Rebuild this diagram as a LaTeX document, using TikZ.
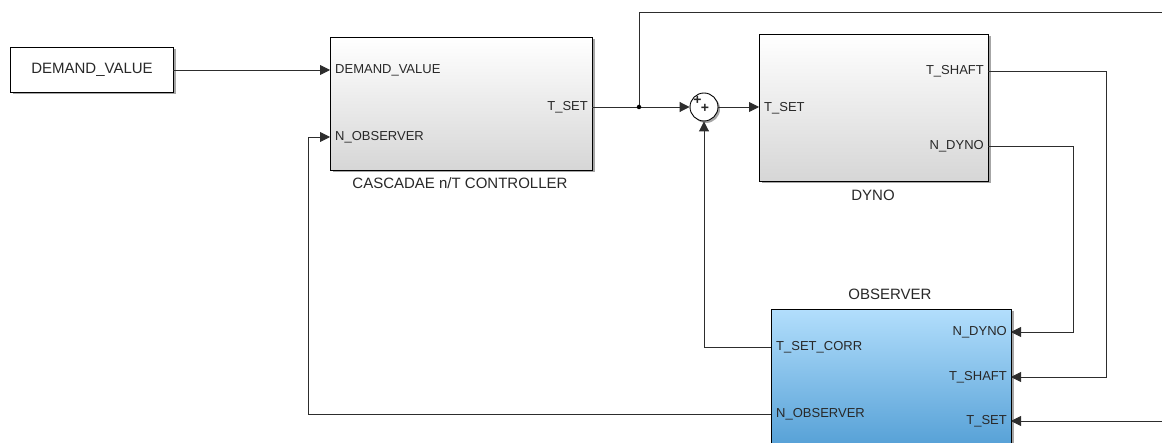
\documentclass[tikz,border=0pt]{standalone}
\usepackage{fontspec}
\setmainfont{Liberation Sans}
\usetikzlibrary{arrows.meta,shadows}
\definecolor{wirec}{RGB}{45,45,45}
\definecolor{txtc}{RGB}{40,40,40}
\definecolor{grayb}{RGB}{214,214,214}
\definecolor{bluet}{RGB}{178,222,252}
\definecolor{blueb}{RGB}{70,150,208}
\begin{document}
\begin{tikzpicture}[x=1pt,y=-1pt,
  shad/.style={drop shadow={shadow xshift=2pt,shadow yshift=-2pt,fill=black,opacity=0.35}},
  gbox/.style={draw=black,line width=1pt,top color=white,bottom color=grayb,shad,inner sep=0pt},
  bbox/.style={draw=black,line width=1pt,top color=bluet,bottom color=blueb,shad,inner sep=0pt},
  wbox/.style={draw=black,line width=1pt,fill=white,shad,inner sep=0pt},
  wire/.style={draw=wirec,line width=0.9pt},
  arr/.style={wire,-{Triangle[length=10pt,width=10pt]}},
  lbl/.style={font=\fontsize{13}{15}\selectfont,text=txtc,inner sep=2pt},
  ttl/.style={font=\fontsize{15}{17}\selectfont,text=txtc,inner sep=2pt},
  pls/.style={font=\bfseries\fontsize{14}{14}\selectfont,text=txtc,inner sep=0pt},
  dot/.style={circle,fill=black,inner sep=0pt,minimum size=4.5pt}
]
\clip (0,0) rectangle (1162,443);
\useasboundingbox (0,0) rectangle (1162,443);

% blocks
\node[wbox,minimum width=163pt,minimum height=45pt,anchor=north west] (dv) at (10,47) {};
\node[ttl] (dvt) at (dv.center) {DEMAND\_VALUE};

\node[gbox,minimum width=262pt,minimum height=133pt,anchor=north west] (ctrl) at (330,37) {};
\node[gbox,minimum width=229pt,minimum height=147pt,anchor=north west] (dyno) at (759,34) {};
\node[bbox,minimum width=240pt,minimum height=160pt,anchor=north west] (obs) at (771,309) {};
\node[circle,draw=black,line width=0.9pt,fill=white,minimum size=28pt,inner sep=0pt,shad] (sum) at (704,107) {};
\node[pls] (sp1) at (697.5,100) {+};
\node[pls] (sp2) at (705,108.5) {+};

% block titles
\node[ttl] (ctrlt) at (460,183) {CASCADAE n/T CONTROLLER};
\node[ttl] (dynot) at (873,195) {DYNO};
\node[ttl] (obst) at (890,294) {OBSERVER};

% port labels
\node[lbl,anchor=west] (c1) at (333,70) {DEMAND\_VALUE};
\node[lbl,anchor=west] (c2) at (333,137) {N\_OBSERVER};
\node[lbl,anchor=east] (c3) at (590,107) {T\_SET};
\node[lbl,anchor=west] (d1) at (762,108) {T\_SET};
\node[lbl,anchor=east] (d2) at (986,71) {T\_SHAFT};
\node[lbl,anchor=east] (d3) at (986,146) {N\_DYNO};
\node[lbl,anchor=west] (o1) at (774,347) {T\_SET\_CORR};
\node[lbl,anchor=west] (o2) at (774,414) {N\_OBSERVER};
\node[lbl,anchor=east] (o3) at (1009,332) {N\_DYNO};
\node[lbl,anchor=east] (o4) at (1009,377) {T\_SHAFT};
\node[lbl,anchor=east] (o5) at (1009,421) {T\_SET};

% port coordinates
\coordinate (dvout) at (173,70);
\coordinate (cin1) at (330,70);
\coordinate (cin2) at (330,137);
\coordinate (cout) at (592,107);
\coordinate (jn) at (639,107);
\coordinate (din) at (759,107);
\coordinate (dout1) at (988,71);
\coordinate (dout2) at (988,146);
\coordinate (oin1) at (1011,332);
\coordinate (oin2) at (1011,377);
\coordinate (oin3) at (1011,421);
\coordinate (oout1) at (771,347);
\coordinate (oout2) at (771,414);
\coordinate (topr) at (1162,12);
\coordinate (botr) at (1162,421);

% wires
\draw[arr] (dvout) -- (cin1);
\draw[wire] (cout) -- (jn);
\draw[arr] (jn) -- (sum.west);
\draw[arr] (sum.east) -- (din);
\draw[wire] (jn) |- (topr);
\node[dot] (jdot) at (jn) {};
\draw[arr] (dout1) -| (1106,377) -- (oin2);
\draw[arr] (dout2) -| (1073,332) -- (oin1);
\draw[arr] (botr) -- (oin3);
\draw[arr] (oout1) -| (sum.south);
\draw[arr] (oout2) -| (308,137) -- (cin2);
\end{tikzpicture}
\end{document}
